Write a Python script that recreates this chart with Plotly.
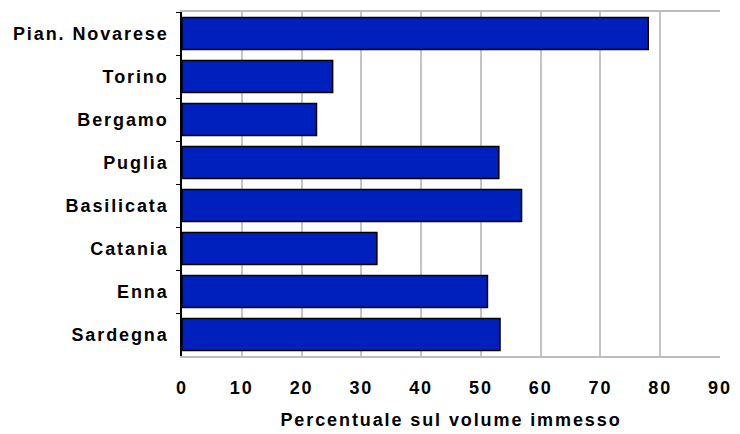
import plotly.graph_objects as go

# Share of the introduced volume by area
areas = ["Pian. Novarese", "Torino", "Bergamo", "Puglia",
         "Basilicata", "Catania", "Enna", "Sardegna"]
percent = [78, 25.2, 22.5, 53, 56.8, 32.6, 51.1, 53.2]

x_ticks = [0, 10, 20, 30, 40, 50, 60, 70, 80, 90]

font_family = "Liberation Sans, Arial, sans-serif"
label_font = dict(size=18, family=font_family, weight="bold", color="#000000")

fig = go.Figure(
    go.Bar(
        x=percent,
        y=areas,
        orientation="h",
        marker=dict(color="#0020BE", line=dict(color="#000000", width=1.5)),
        hoverinfo="x+y",
    )
)

fig.update_layout(
    width=740,
    height=434,
    margin=dict(l=182, r=20, t=12, b=78),
    paper_bgcolor="white",
    plot_bgcolor="white",
    bargap=0.26,
    showlegend=False,
    font=label_font,
)

fig.update_xaxes(
    range=[0, 90],
    tickvals=x_ticks,
    ticktext=[str(v) for v in x_ticks],
    showgrid=True,
    gridcolor="#C4C4C4",
    gridwidth=1.5,
    zeroline=False,
    showline=True,
    linecolor="#BDBDBD",
    linewidth=2,
    mirror=True,
    ticks="",
    automargin=False,
    ticklabelstandoff=14,
    tickfont=label_font,
    title=dict(text="Percentuale sul volume immesso", standoff=17, font=label_font),
)

fig.update_yaxes(
    autorange="reversed",
    showgrid=False,
    zeroline=False,
    showline=True,
    linecolor="#000000",
    linewidth=1.5,
    ticks="outside",
    tickson="boundaries",
    ticklen=4,
    tickcolor="#000000",
    automargin=False,
    ticklabelstandoff=8,
    tickfont=label_font,
)

# Slightly spaced lettering for the axis labels and title
letter_spacing_js = """
var st = document.createElement('style');
st.textContent = '.xtick text, .ytick text, .xtitle { letter-spacing: 1.9px; }';
document.head.appendChild(st);
"""

fig.write_html("out.html", post_script=letter_spacing_js)
